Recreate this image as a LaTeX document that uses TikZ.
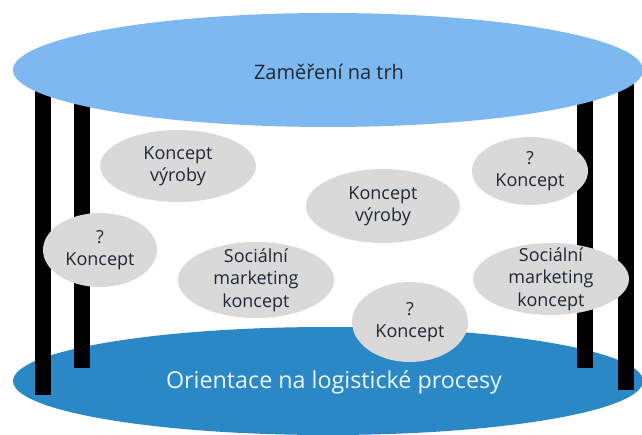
\documentclass[tikz,border=0pt]{standalone}
\usepackage{fontspec}
\setmainfont{Open Sans}
\usepackage{tikz}

\definecolor{topblue}{HTML}{7DB9F0}
\definecolor{lowblue}{HTML}{2A88C6}
\definecolor{bubblegray}{HTML}{D9D9D9}
\definecolor{darktext}{HTML}{1F2733}

\tikzset{
  bubble/.style={fill=bubblegray},
  bubbletext/.style={align=center, text=darktext, font=\fontsize{18}{22.5}\selectfont},
  pillar/.style={fill=black}
}

\begin{document}
\begin{tikzpicture}[x=1pt,y=-1pt]
			\useasboundingbox (0,0) rectangle (642,435);
			% platform below
			\fill[lowblue] (328,381) ellipse [x radius=315, y radius=54];
			\draw (334,382) node (logistika) [text=white!92!lowblue, font=\fontsize{23.3}{26}\selectfont] {Orientace na logistické procesy};
			% pillars
			\fill[pillar] (35,80) rectangle (51,395);
			\fill[pillar] (74,80) rectangle (90,368);
			\fill[pillar] (577,80) rectangle (593,368);
			\fill[pillar] (618,80) rectangle (634,390);
			% platform above
			\fill[topblue] (328,70) ellipse [x radius=315, y radius=57];
			\draw (329,72) node (trh) [text=darktext, font=\fontsize{20}{24}\selectfont] {Zaměření na trh};
			% concepts
			\fill[bubble] (178,166) ellipse [x radius=78, y radius=36] node (vyroba) [bubbletext] {Koncept\\výroby};
			\fill[bubble] (100,250) ellipse [x radius=57, y radius=37] node (otaznik) [bubbletext] {?\\Koncept};
			\fill[bubble] (256,280) ellipse [x radius=78, y radius=38] node (socialni) [bubbletext] {Sociální\\marketing\\koncept};
			\fill[bubble] (383,206) ellipse [x radius=77, y radius=37] node (vyrobastred) [bubbletext] {Koncept\\výroby};
			\fill[bubble] (530,171) ellipse [x radius=58, y radius=34] node (otaznikvpravo) [bubbletext] {?\\Koncept};
			\fill[bubble] (551,279) ellipse [x radius=78, y radius=36] node (socialnivpravo) [bubbletext] {Sociální\\marketing\\koncept};
			\fill[bubble] (410,322) ellipse [x radius=58, y radius=40] node (otaznikdole) [bubbletext] {?\\Koncept};
		\end{tikzpicture}
\end{document}
